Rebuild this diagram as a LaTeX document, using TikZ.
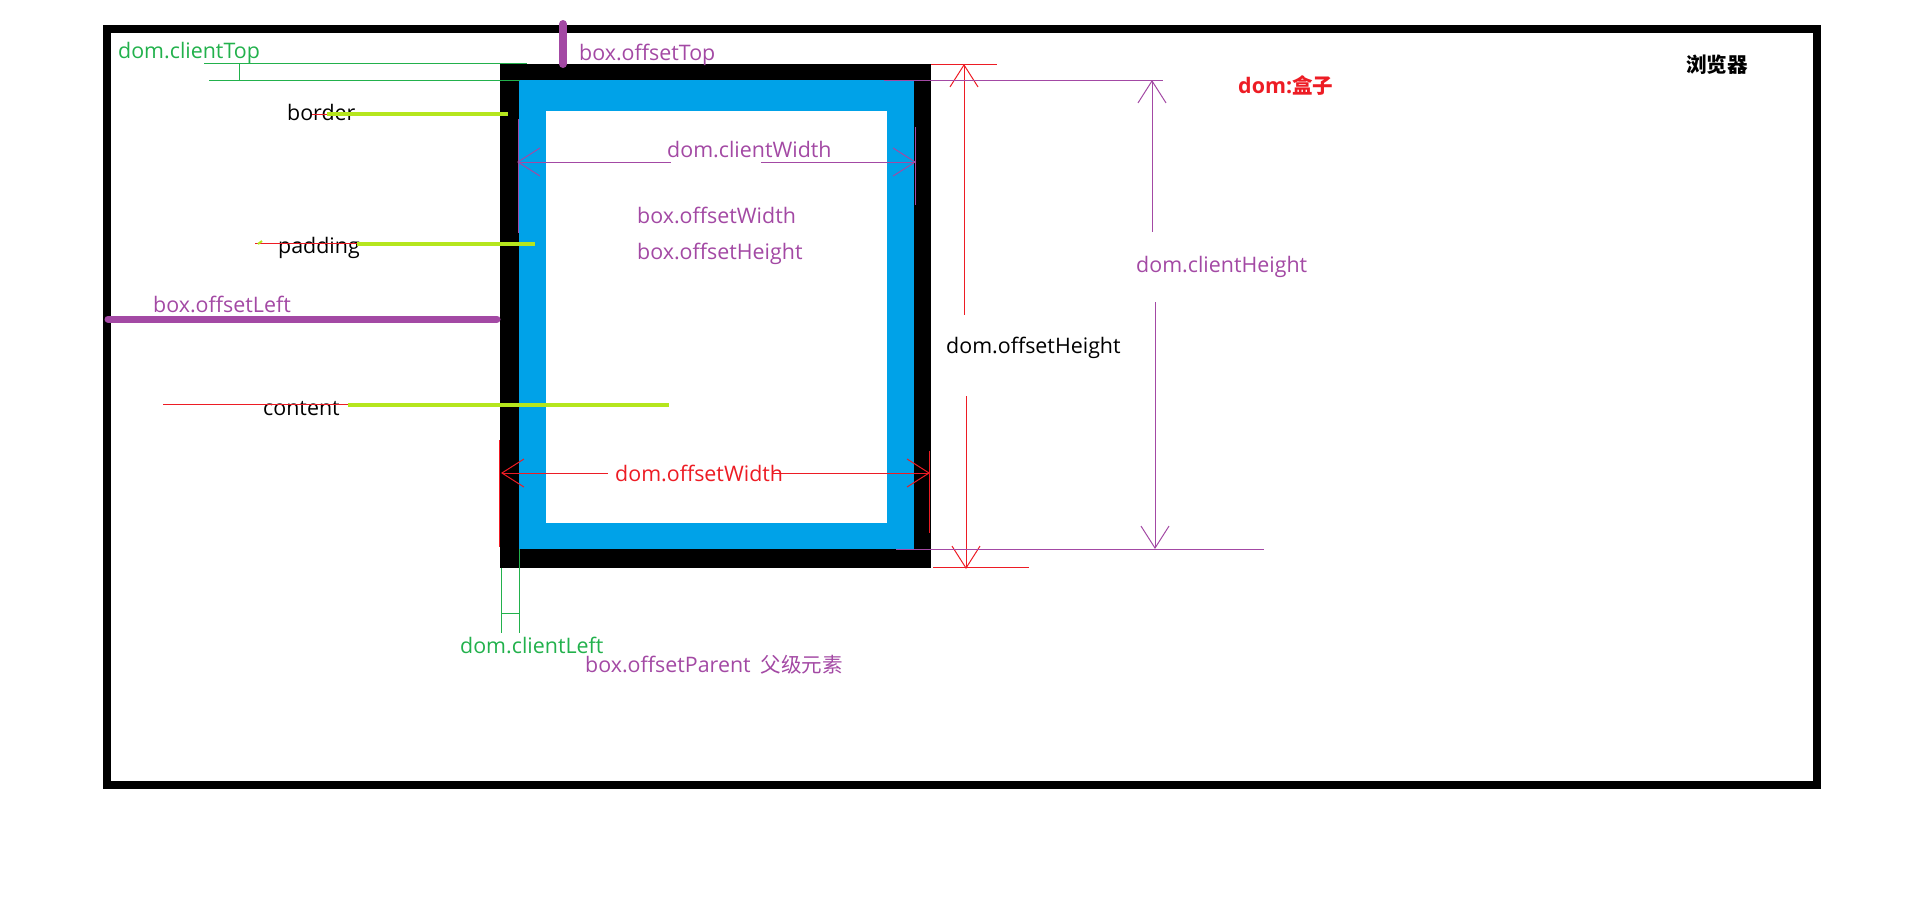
\documentclass[tikz,border=0pt]{standalone}
\usepackage{fontspec}
\setmainfont{Open Sans}
\newfontfamily\cjk[Scale=0.96]{Noto Sans CJK SC}
\usetikzlibrary{arrows.meta}
\definecolor{paintBlue}{HTML}{00A2E8}
\definecolor{paintGreen}{HTML}{22B14C}
\definecolor{paintLime}{HTML}{B5E61D}
\definecolor{paintPurple}{HTML}{A349A4}
\definecolor{paintRed}{HTML}{ED1C24}
\tikzset{vtip/.tip={Straight Barb[length=22pt,width=28pt]}}

\begin{document}
\begin{tikzpicture}[
    x=1pt, y=-1pt,
    font=\fontsize{21.4}{25}\selectfont,
    lbl/.style={
        anchor=base west,
        inner sep=0pt
    },
    guide/.style={
        line width=1pt
    },
    pointer/.style={
        line width=4pt,
        draw=paintLime
    },
    measure/.style={
        line width=8pt,
        draw=paintPurple,
        line cap=round
    }
]
\useasboundingbox (0,0) rectangle (1914,916);

% -------------------- Browser window -------------------------
\draw[line width=8pt] (107,29) rectangle (1817,785);
\node[lbl] (browser) at (1686,72) {\cjk\bfseries 浏览器};
\node[lbl, text=paintRed] (domBox) at (1238,93) {\bfseries dom:{\cjk 盒子}};

% -------------------- The box --------------------------------
\coordinate (borderNW) at (500,64);
\coordinate (borderSE) at (931,568);
\coordinate (paddingNW) at (519,80);
\coordinate (paddingSE) at (914,549);
\coordinate (contentNW) at (546,111);
\coordinate (contentSE) at (887,523);
\fill[black] (borderNW) rectangle (borderSE);
\fill[paintBlue] (paddingNW) rectangle (paddingSE);
\fill[white] (contentNW) rectangle (contentSE);

% -------------------- offsetTop / offsetLeft -----------------
\draw[measure] (563,24) -- (563,64);
\node[lbl, text=paintPurple] (offTop) at (579,60) {box.offsetTop};
\draw[measure, line width=7pt] (108,319) -- (497,319);
\node[lbl, text=paintPurple] (offLeft) at (153,312) {box.offsetLeft};

% -------------------- clientTop / clientLeft -----------------
\node[lbl, text=paintGreen] (cliTop) at (118,58) {dom.clientTop};
\draw[guide, paintGreen] (204,63) -- (527,63);
\draw[guide, paintGreen] (209,80) -- (520,80);
\draw[guide, paintGreen] (239,63) -- (239,80);
\draw[guide, paintGreen] (501,568) -- (501,633);
\draw[guide, paintGreen] (519,549) -- (519,633);
\draw[guide, paintGreen] (501,613) -- (519,613);
\node[lbl, text=paintGreen] (cliLeft) at (460,653) {dom.clientLeft};
\node[lbl, text=paintPurple] (offParent) at (585,672)
  {box.offsetParent\hspace{10pt}{\cjk 父级元素}};

% -------------------- Layer pointers -------------------------
\node[lbl] (border) at (287,120) {border};
\draw[guide, paintRed] (312,114) -- (327,114);
\draw[pointer] (327,114) -- (508,114);
\node[lbl] (padding) at (278,253) {padding};
\draw[guide, paintRed] (255,243) -- (357,243);
\draw[line width=2pt, paintLime] (258,244) -- (262,241);
\draw[pointer] (357,244) -- (535,244);
\node[lbl] (content) at (263,415) {content};
\draw[guide, paintRed] (163,404) -- (348,404);
\draw[pointer] (348,405) -- (669,405);

% -------------------- Widths ---------------------------------
\draw[guide, paintPurple] (518,119) -- (518,233);
\draw[guide, paintPurple] (915,127) -- (915,205);
\node[lbl, text=paintPurple] (cliWidth) at (667,157) {dom.clientWidth};
\draw[guide, paintPurple, vtip-] (517,162) -- (671,162);
\draw[guide, paintPurple, -vtip] (761,162) -- (916,162);
\node[lbl, text=paintPurple] (boxWidth) at (637,223) {box.offsetWidth};
\node[lbl, text=paintPurple] (boxHeight) at (637,259) {box.offsetHeight};

\draw[guide, paintRed] (499,440) -- (499,547);
\draw[guide, paintRed] (929,451) -- (929,533);
\draw[guide, paintRed, vtip-] (501,473) -- (608,473);
\draw[guide, paintRed, -vtip] (773,473) -- (930,473);
\node[lbl, text=paintRed] (offWidth) at (615,481) {dom.offsetWidth};

% -------------------- Heights --------------------------------
\draw[guide, paintRed] (931,64) -- (997,64);
\draw[guide, paintRed] (933,567) -- (1029,567);
\draw[guide, paintRed, vtip-] (964,64) -- (964,315);
\draw[guide, paintRed, -vtip] (966,396) -- (966,569);
\node[lbl] (offHeight) at (946,353) {dom.offsetHeight};

\draw[guide, paintPurple] (884,80) -- (1163,80);
\draw[guide, paintPurple] (896,549) -- (1264,549);
\draw[guide, paintPurple, vtip-] (1152,80) -- (1152,232);
\draw[guide, paintPurple, -vtip] (1155,302) -- (1155,549);
\node[lbl, text=paintPurple] (cliHeight) at (1136,272) {dom.clientHeight};

\end{tikzpicture}
\end{document}
